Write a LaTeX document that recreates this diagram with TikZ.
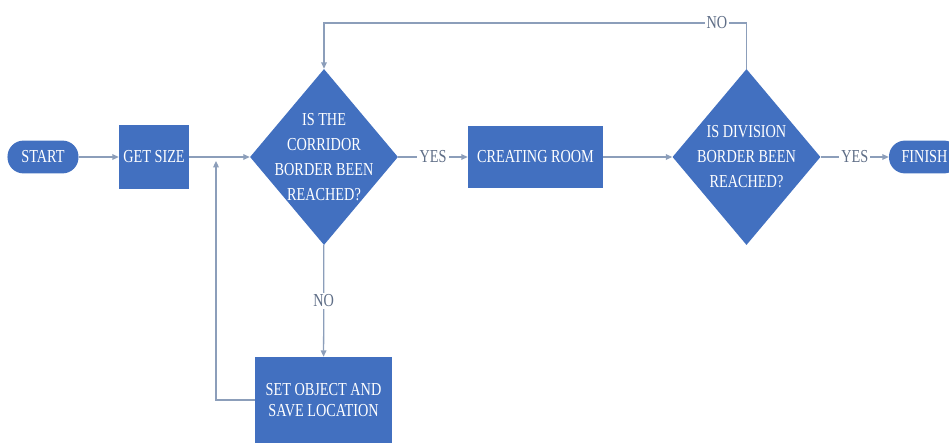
\documentclass[tikz,border=0pt]{standalone}
\usepackage{fontspec}
\setmainfont{Liberation Serif}[FakeStretch=0.78]
\usetikzlibrary{shapes.geometric,arrows.meta}
\definecolor{boxblue}{RGB}{66,112,192}
\definecolor{linegray}{RGB}{140,158,186}
\definecolor{labgray}{RGB}{95,110,135}
\begin{document}
\begin{tikzpicture}[x=0.025cm,y=-0.025cm,
 terminal/.style={draw=none,fill=boxblue,rounded corners=0.4cm,minimum width=1.775cm,minimum height=0.82cm,inner sep=0pt,text=white,font=\fontsize{13}{15}\selectfont},
 process/.style={draw=none,fill=boxblue,inner sep=0pt,text=white,align=center,font=\fontsize{13}{15}\selectfont},
 decision/.style={diamond,draw=none,fill=boxblue,inner sep=0pt,minimum width=3.7cm,minimum height=4.4cm},
 dtext/.style={text=white,align=center,inner sep=0pt,font=\fontsize{13}{17.8}\selectfont},
 flow/.style={draw=linegray,line width=0.9pt,-{Triangle[length=4.5pt,width=4pt]}},
 line/.style={draw=linegray,line width=0.9pt},
 tag/.style={fill=white,text=labgray,inner sep=1.5pt,font=\fontsize{13}{15}\selectfont}]
 \useasboundingbox (0,0) rectangle (949,447);
 \clip (0,0) rectangle (949,447);
 \node[terminal] (start) at (43,157) {START};
 \node[process,minimum width=1.75cm,minimum height=1.575cm] (size) at (154,157) {GET SIZE};
 \node[decision,label={[dtext]center:IS THE\\CORRIDOR\\BORDER BEEN\\REACHED?}] (corr) at (324,157) {};
 \node[process,minimum width=3.375cm,minimum height=1.525cm] (room) at (535.5,157) {CREATING ROOM};
 \node[decision,label={[dtext]center:IS DIVISION\\BORDER BEEN\\REACHED?}] (div) at (746.5,157) {};
 \node[terminal] (finish) at (924.5,157) {FINISH};
 \node[process,minimum width=3.425cm,minimum height=2.15cm] (set) at (323.5,400) {SET OBJECT AND\\SAVE LOCATION};
 \coordinate (ntop) at (746.5,23);
 \coordinate (join) at (216,161);
 \draw[flow] (start) -- (size);
 \draw[flow] (size) -- (corr);
 \draw[flow] (corr) -- node[tag] {YES} (room);
 \draw[flow] (room) -- (div);
 \draw[flow] (div) -- node[tag] {YES} (finish);
 \draw[flow] (div.north) -- (ntop) -| node[tag,pos=0.035] {NO} (corr.north);
 \draw[flow] (corr) -- node[tag] {NO} (set);
 \draw[flow] (set.west) -| (join);
\end{tikzpicture}
\end{document}
